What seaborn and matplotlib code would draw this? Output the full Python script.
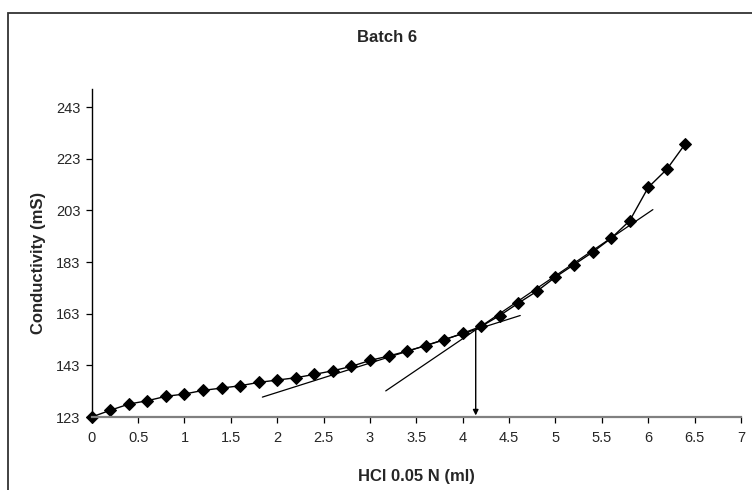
import matplotlib
matplotlib.use('Agg')
import matplotlib.pyplot as plt
from matplotlib.patches import Rectangle
import pandas as pd
import seaborn as sns

# Titration data
hcl_ml = [0.0, 0.2, 0.4, 0.6, 0.8, 1.0, 1.2, 1.4, 1.6, 1.8, 2.0, 2.2, 2.4,
          2.6, 2.8, 3.0, 3.2, 3.4, 3.6, 3.8, 4.0, 4.2, 4.4, 4.6, 4.8,
          5.0, 5.2, 5.4, 5.6, 5.8, 6.0, 6.2, 6.4]
conductivity = [123.0, 125.6, 128.0, 129.3, 131.0, 131.9, 133.3, 134.2, 135.1,
                136.4, 137.3, 138.2, 139.5, 140.9, 142.6, 144.9, 146.6, 148.5,
                150.6, 152.9, 155.4, 158.1, 162.3, 167.1, 171.7, 177.2, 182.0,
                186.8, 192.2, 199.0, 211.9, 218.9, 228.8]

# Tangent lines (endpoints)
tangent1_x = [1.84, 4.62]
tangent1_y = [130.7, 162.3]
tangent2_x = [3.17, 6.05]
tangent2_y = [133.1, 203.3]

# Equivalence point
equiv_x = 4.14
equiv_y = 157.4

xticks = [0, 0.5, 1, 1.5, 2, 2.5, 3, 3.5, 4, 4.5, 5, 5.5, 6, 6.5, 7]
xtick_labels = ['0', '0.5', '1', '1.5', '2', '2.5', '3', '3.5', '4', '4.5',
                '5', '5.5', '6', '6.5', '7']
yticks = [123, 143, 163, 183, 203, 223, 243]

df = pd.DataFrame({'x': hcl_ml, 'y': conductivity})

sns.set_style('white')
plt.rcParams['font.family'] = ['Liberation Sans', 'DejaVu Sans']

fig = plt.figure(figsize=(7.52, 4.9), dpi=100)
ax = fig.add_axes([91.7 / 752, 73 / 490, 649.3 / 752, 328 / 490])

# outer chart frame (cut off at right and bottom)
fig.patches.append(Rectangle((8 / 752, -0.1), 1.1, 1.1 - 13 / 490,
                             transform=fig.transFigure, fill=False,
                             edgecolor='#333333', linewidth=1.3))

sns.lineplot(data=df, x='x', y='y', ax=ax, color='black', linewidth=1.0,
             marker='D', markersize=6, markeredgecolor='black', clip_on=False)
sns.lineplot(x=tangent1_x, y=tangent1_y, ax=ax, color='black', linewidth=0.9)
sns.lineplot(x=tangent2_x, y=tangent2_y, ax=ax, color='black', linewidth=0.9)

ax.annotate('', xy=(equiv_x, 123.6), xytext=(equiv_x, equiv_y),
            arrowprops=dict(arrowstyle='-|>', color='black', lw=1.0,
                            mutation_scale=8, shrinkA=0, shrinkB=0))

ax.set_xlim(0, 7)
ax.set_ylim(123, 250)
ax.set_xticks(xticks)
ax.set_xticklabels(xtick_labels)
ax.set_yticks(yticks)

for side in ['top', 'right']:
    ax.spines[side].set_visible(False)
ax.spines['left'].set_color('black')
ax.spines['left'].set_linewidth(1.0)
ax.spines['bottom'].set_color('#808080')
ax.spines['bottom'].set_linewidth(1.6)

ax.tick_params(axis='both', which='major', direction='out', length=4, width=0.9,
               labelsize=10.5, color='black', bottom=True, left=True)
ax.tick_params(axis='x', pad=6)
ax.tick_params(axis='y', pad=4)

ax.set_xlabel('HCl 0.05 N (ml)', fontsize=12, fontweight='bold')
ax.set_ylabel('Conductivity (mS)', fontsize=12, fontweight='bold')
ax.xaxis.set_label_coords(0.4995, -0.158)
ax.yaxis.set_label_coords(-0.07, 0.47)

fig.text(387 / 752, 1 - 37 / 490, 'Batch 6', ha='center', va='center',
         fontsize=12, fontweight='bold')

fig.savefig('out.png', dpi=100)
